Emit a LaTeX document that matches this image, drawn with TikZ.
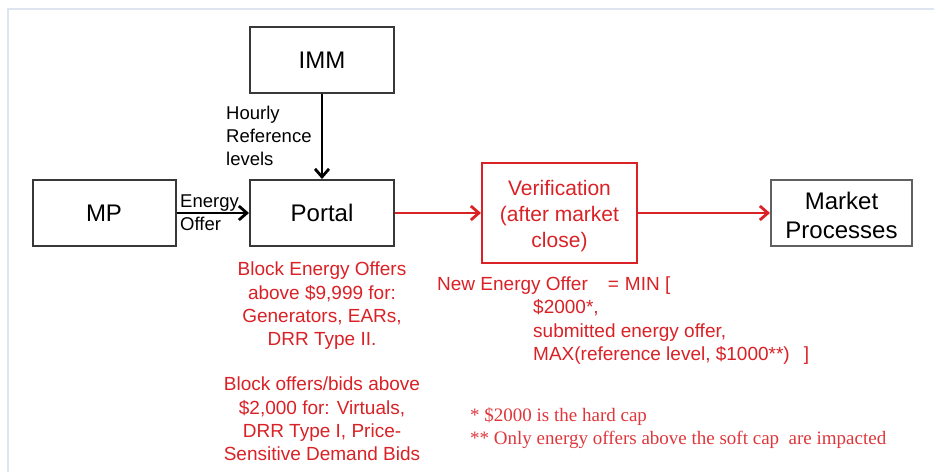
\documentclass[tikz,border=0pt]{standalone}
\usepackage{fontspec}
\setmainfont{Liberation Sans}
\newfontfamily\notefont{Liberation Serif}
\usetikzlibrary{arrows.meta}

\begin{document}
\begin{tikzpicture}[x=1pt,y=-1pt,
  box/.style={draw,line width=2pt,minimum height=66pt,inner sep=0pt,align=center,font=\fontsize{24}{29}\selectfont},
  flow/.style={line width=2.8pt,-{Straight Barb[length=8pt,width=14pt,line width=2.8pt]}},
  label/.style={inner sep=0pt,align=left,font=\fontsize{18.5}{23}\selectfont},
  rule/.style={inner sep=0pt,align=center,text=myred,font=\fontsize{19}{23.3}\selectfont},
]
\useasboundingbox (0,0) rectangle (934,472);

\definecolor{myred}{rgb}{0.85,0.13,0.15}
\definecolor{myframe}{rgb}{0.87,0.9,0.94}
\definecolor{mygray}{gray}{0.22}

% window edge
\draw[myframe,line width=2pt] (8,472) -- (8,9) -- (934,9);

% boxes
\node[box,mygray,text=black,minimum width=144pt] (imm) at (322,60) {IMM};
\node[box,mygray,text=black,minimum width=143pt] (mp) at (104,213) {MP};
\node[box,mygray,text=black,minimum width=144pt] (portal) at (322,213) {Portal};
\node[box,myred,minimum width=155pt,minimum height=100pt] (verif) at (559.5,213) {};
\node[box,mygray!80,text=black,minimum width=141pt] (market) at (841.5,213) {};
\node[font=\fontsize{21}{26}\selectfont,text=myred,align=center,inner sep=0pt] (veriftext) at (verif.center) [yshift=-3pt] {Verification\\(after market\\close)};
\node[font=\fontsize{24}{29}\selectfont,align=center,inner sep=0pt] (markettext) at (market.center) [yshift=-2pt] {Market\\Processes};

% connectors
\draw[flow] (imm) -- (portal);
\draw[flow] (mp) -- (portal);
\draw[flow,myred] (portal) -- (verif);
\draw[flow,myred] (verif) -- (market);

% labels on the black arrows
\node[label,anchor=north west] (hourly) at (226,106) {Hourly\\Reference\\levels};
\node[label,anchor=north west] (offer) at (180,194.5) {Energy\\Offer};

% block limits under the portal
\node[rule,anchor=north] (blockgen) at (322,262) {Block Energy Offers\\above \$9,999 for:\\Generators, EARs,\\DRR Type II.};
\node[rule,anchor=north] (blockvirt) at (322,377) {Block offers/bids above\\\$2,000 for: Virtuals,\\DRR Type I, Price-\\Sensitive Demand Bids};

% new offer formula
\node[rule,align=left,anchor=north west] (formula) at (437,276.5) {New Energy Offer\hspace*{20pt}=\hspace*{6pt}MIN [\\
  \hspace*{96pt}\$2000*,\\
  \hspace*{96pt}submitted energy offer,\\
  \hspace*{96pt}MAX(reference level, \$1000**)\hspace*{14pt}]};

% footnotes
\node[inner sep=0pt,align=left,anchor=north west,text=myred!90,font=\notefont\fontsize{19}{23}\selectfont] (caps) at (470,408) {* \$2000 is the hard cap\\** Only energy offers above the soft cap\ \ are impacted};
\end{tikzpicture}
\end{document}
